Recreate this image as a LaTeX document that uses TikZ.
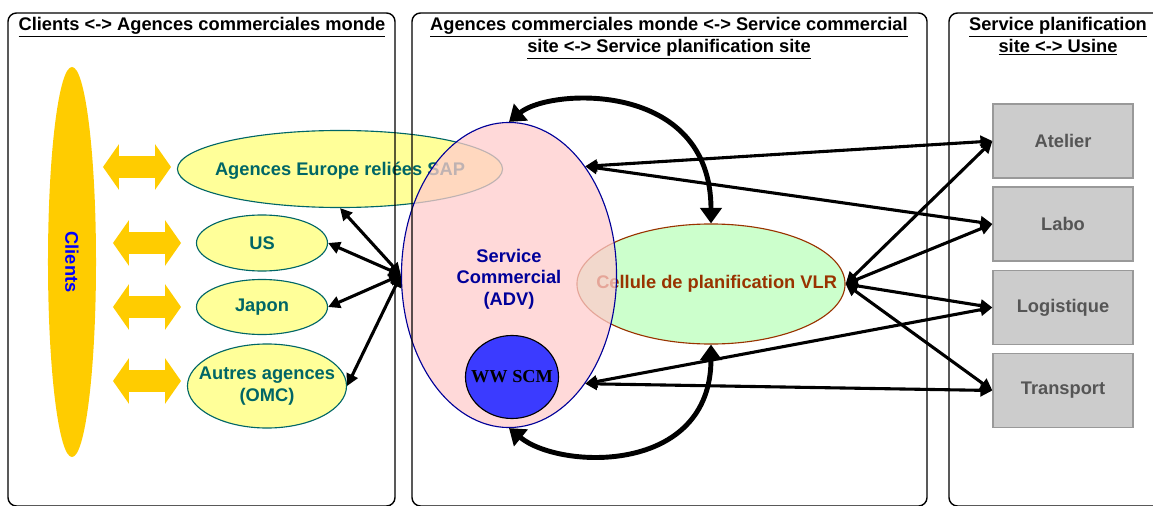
\documentclass[tikz,border=0pt]{standalone}
\usepackage{fontspec}
\setmainfont{Liberation Sans}
\newfontfamily\timesfont{Liberation Serif}
\usepackage{tikz}
\usetikzlibrary{arrows.meta, shapes.geometric, shapes.arrows}
\definecolor{cliYellow}{HTML}{FFCC00}
\definecolor{cliBlue}{HTML}{0000FF}
\definecolor{agFill}{HTML}{FFFF99}
\definecolor{agTeal}{HTML}{006666}
\definecolor{advFill}{HTML}{FFCCCC}
\definecolor{advBlue}{HTML}{000099}
\definecolor{scmBlue}{HTML}{3B3BFF}
\definecolor{celFill}{HTML}{CCFFCC}
\definecolor{celBrown}{HTML}{993300}
\definecolor{usFill}{HTML}{CCCCCC}
\definecolor{usLine}{HTML}{999999}
\definecolor{usText}{HTML}{555555}

\begin{document}
\begin{tikzpicture}[
  x=0.025cm, y=-0.025cm,
  every node/.style={font=\fontsize{13}{15.5}\selectfont\bfseries},
  every label/.style={inner sep=0pt, align=center},
  panel/.style={draw, line width=1pt, rounded corners=6pt},
  ptitle/.style={align=center, inner sep=0pt},
  agence/.style={ellipse, draw=agTeal, line width=0.8pt, fill=agFill,
                 inner sep=0pt},
  fleche/.style={double arrow, fill=cliYellow, inner xsep=0pt, inner ysep=0.2625cm,
                 minimum height=1.7cm, double arrow head extend=0.3cm,
                 double arrow tip angle=110},
  usine/.style={draw=usLine, line width=0.8pt, fill=usFill, text=usText,
                minimum width=3.5cm, minimum height=1.85cm},
  arr/.style={{Triangle[length=8.5pt,width=8.5pt]}-{Triangle[length=8.5pt,width=8.5pt]},
              line width=2.2pt},
  bigarr/.style={{Triangle[length=11pt,width=15pt]}-{Triangle[length=11pt,width=15pt]},
                 line width=3.5pt},
]
  \path[use as bounding box, clip] (0,0) rectangle (1153,506);

  \node[ellipse, fill=cliYellow, text=cliBlue, inner sep=0pt, rotate=-90,
        minimum width=9.75cm, minimum height=1.2cm] (clients) at (72,262) {Clients};

  \node[fleche] (fEurope) at (137,167) {};
  \node[fleche] (fUs) at (147,243) {};
  \node[fleche] (fJapon) at (147,307) {};
  \node[fleche] (fAutres) at (147,381) {};

  \node[agence, minimum width=8.125cm, minimum height=1.925cm,
        label={[text=agTeal, yshift=-1pt]center:Agences Europe reliées SAP}]
       (europe) at (340,169) {};
  \node[agence, minimum width=3.275cm, minimum height=1.4cm,
        label={[text=agTeal]center:US}] (us) at (262,243) {};
  \node[agence, minimum width=3.275cm, minimum height=1.375cm,
        label={[text=agTeal]center:Japon}] (japon) at (262,307) {};
  \node[agence, minimum width=3.975cm, minimum height=2.1cm,
        label={[text=agTeal]center:Autres agences\\(OMC)}] (autres) at (267,386) {};

  \node[ellipse, draw=celBrown, line width=0.8pt, fill=celFill, inner sep=0pt,
        minimum width=6.7cm, minimum height=3cm,
        label={[text=celBrown, xshift=4pt]center:Cellule de planification VLR}]
       (vlr) at (711,284) {};

  \node[ellipse, draw=advBlue, line width=0.8pt, fill=advFill, fill opacity=0.75,
        inner sep=0pt, minimum width=5.375cm, minimum height=7.625cm,
        label={[text=advBlue, yshift=-3pt]center:Service\\Commercial\\(ADV)}]
       (adv) at (509,275) {};
  \node[ellipse, draw, line width=0.8pt, fill=scmBlue, inner sep=0pt,
        minimum width=2.325cm, minimum height=2.075cm,
        label={[font=\fontsize{13}{15.5}\timesfont\bfseries]center:WW SCM}]
       (scm) at (512,377) {};

  \node[usine] (atelier) at (1063,141) {Atelier};
  \node[usine] (labo) at (1063,224) {Labo};
  \node[usine] (logistique) at (1063,307.5) {Logistique};
  \node[usine] (transport) at (1063,390.5) {Transport};

  \draw[panel] (8,13) rectangle (395,506);
  \draw[panel] (412,13) rectangle (927,506);
  \draw[panel] (949,13) rectangle (1175,506);

  \node[ptitle] (tClients) at (202,27)
       {\underline{Clients <-> Agences commerciales monde}};
  \node[ptitle] (tAgences) at (669,38)
       {\underline{Agences commerciales monde <-> Service commercial}\\
        \underline{site <-> Service planification site}};
  \node[ptitle] (tUsine) at (1058,36)
       {\underline{Service planification}\\\underline{site <-> Usine}};

  \draw[arr] (adv.west) -- (europe.south);
  \draw[arr] (adv.west) -- (us.east);
  \draw[arr] (adv.west) -- (japon.east);
  \draw[arr] (adv.west) -- (autres.east);

  \draw[arr] (adv.55) -- (atelier.west);
  \draw[arr] (adv.55) -- (labo.west);
  \draw[arr] (vlr.east) -- (atelier.west);
  \draw[arr] (vlr.east) -- (labo.west);
  \draw[arr] (vlr.east) -- (logistique.west);
  \draw[arr] (vlr.east) -- (transport.west);
  \draw[arr] (adv.-55) -- (logistique.west);
  \draw[arr] (adv.-55) -- (transport.west);

  \draw[bigarr] (adv.north) .. controls (550,88) and (711,80) .. (vlr.north);
  \draw[bigarr] (adv.south) .. controls (560,470) and (711,475) .. (vlr.south);
\end{tikzpicture}
\end{document}
